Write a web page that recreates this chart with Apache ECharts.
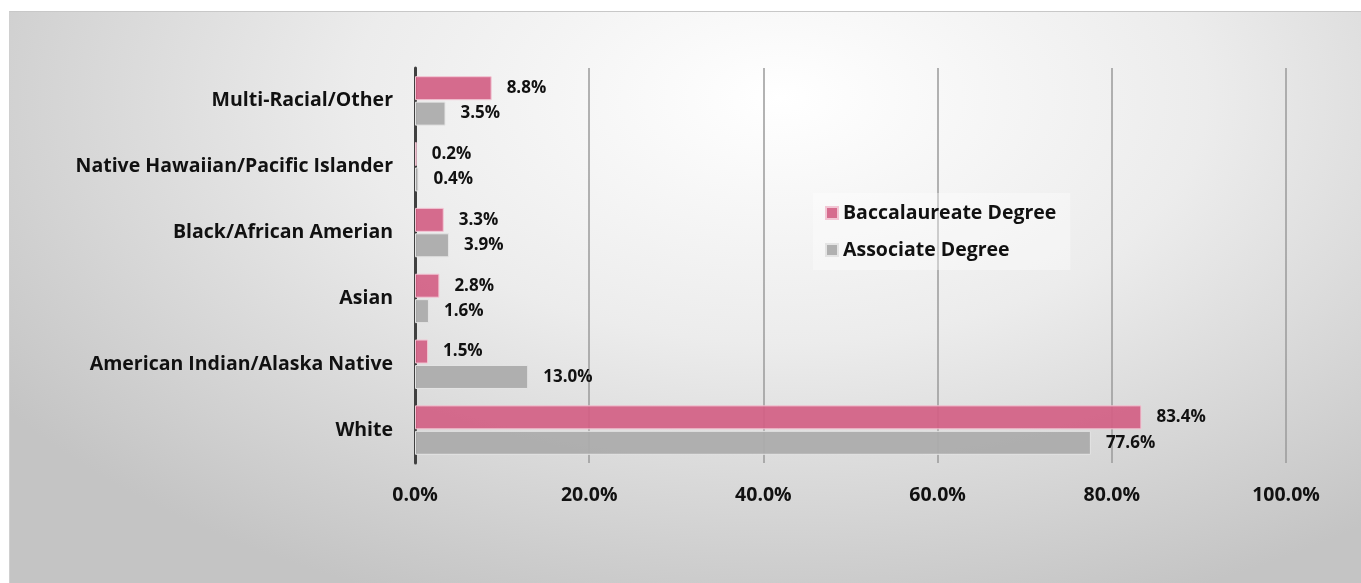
<!DOCTYPE html>
<html>
<head>
<meta charset="utf-8">
<script src="https://cdn.jsdelivr.net/npm/echarts@6/dist/echarts.min.js"></script>
<style>
  html, body { margin: 0; padding: 0; background: #fff; }
  #main {
    position: absolute; left: 9px; top: 11px; width: 1352px; height: 572px;
    border-top: 1px solid #c8c8c8; border-left: 1px solid #d0d0d0;
    background: radial-gradient(ellipse 70% 95% at 57% 15%, #ffffff 0%, #ececec 45%, #c4c4c4 100%);
  }
</style>
</head>
<body>
<div id="main"></div>
<script>
// categories bottom -> top
var categories = ["White", "American Indian/Alaska Native", "Asian", "Black/African Amerian", "Native Hawaiian/Pacific Islander", "Multi-Racial/Other"];
var baccalaureate = [83.4, 1.5, 2.8, 3.3, 0.2, 8.8];
var associate = [77.6, 13.0, 1.6, 3.9, 0.4, 3.5];
var xTicks = [0, 20, 40, 60, 80, 100];

var font = "'Open Sans', sans-serif";
var chartDom = document.getElementById("main");
var myChart = echarts.init(chartDom);

var labelStyle = {
  show: true,
  position: "right",
  distance: 15,
  color: "#111",
  fontFamily: font,
  fontWeight: "bold",
  fontSize: 17,
  formatter: function (p) { return p.value.toFixed(1) + "%"; }
};

var option = {
  backgroundColor: "transparent",
  animation: false,
  grid: { left: 405, right: 76, top: 56, bottom: 121 },
  legend: {
    orient: "vertical",
    left: 803,
    top: 181,
    backgroundColor: "rgba(255,255,255,0.35)",
    padding: [10, 14, 10, 12],
    itemGap: 17,
    itemWidth: 12,
    itemHeight: 12,
    icon: "rect",
    textStyle: { fontFamily: font, fontWeight: "bold", fontSize: 19.5, color: "#111" },
    data: ["Baccalaureate Degree", "Associate Degree"]
  },
  xAxis: {
    type: "value",
    min: xTicks[0],
    max: xTicks[xTicks.length - 1],
    interval: 20,
    axisLine: { show: false },
    axisTick: { show: false },
    splitLine: { show: true, lineStyle: { color: "#9a9a9a", width: 1.5 } },
    axisLabel: {
      margin: 22,
      color: "#111",
      fontFamily: font,
      fontWeight: "bold",
      fontSize: 19.5,
      formatter: function (v) { return v.toFixed(1) + "%"; }
    }
  },
  yAxis: {
    type: "category",
    data: categories,
    axisLine: { show: true, lineStyle: { color: "#404040", width: 3 } },
    axisTick: { show: false },
    axisLabel: {
      margin: 22,
      color: "#111",
      fontFamily: font,
      fontWeight: "bold",
      fontSize: 19.5
    }
  },
  series: [
    {
      name: "Baccalaureate Degree",
      type: "bar",
      data: baccalaureate,
      barWidth: 24,
      barGap: "6%",
      itemStyle: { color: "rgba(210,96,132,0.92)", borderColor: "#f2c6d4", borderWidth: 1 },
      label: labelStyle
    },
    {
      name: "Associate Degree",
      type: "bar",
      data: associate,
      barWidth: 24,
      itemStyle: { color: "rgba(172,172,172,0.95)", borderColor: "#e4e4e4", borderWidth: 1 },
      label: labelStyle
    }
  ]
};

option && myChart.setOption(option);
</script>
</body>
</html>
